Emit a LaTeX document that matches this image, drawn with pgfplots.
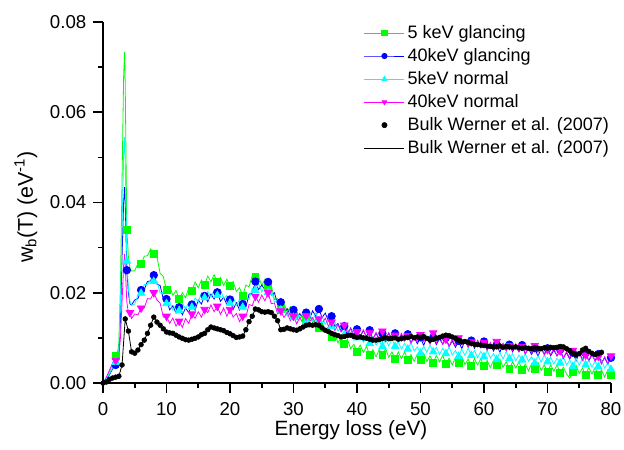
\documentclass[border=0pt]{standalone}
\usepackage{fontspec}
\setmainfont{Liberation Sans}
\usepackage{pgfplots}
\usepackage{pgfplotstable}
\pgfplotsset{compat=1.18}

\definecolor{cgreen}{RGB}{0,255,0}
\definecolor{cblue}{RGB}{0,0,255}
\definecolor{ccyan}{RGB}{0,255,255}
\definecolor{cmag}{RGB}{255,0,255}

% Energy loss x (eV); spectra in units of 1e-3 eV^-1
% g: 5 keV glancing, b: 40 keV glancing, c: 5 keV normal, m: 40 keV normal, k: bulk (Werner et al.)
\pgfplotstableread{
x g b c m k
0 0 0 0 0 0
0.5 0.9 0.7 0.8 1.2 0.2
1.0 2.4 1.8 2.0 2.8 0.8
1.5 4.3 3.1 3.4 4.3 1.1
2.0 6.1 4.0 4.6 5.0 1.3
2.25 6.4 4.3 5.0 5.1 nan
2.5 9.0 6.0 7.0 6.0 1.5
2.75 22 14 18 10 nan
3.0 45 28 35 18 4.0
3.25 68 40 50 26 nan
3.4 73.4 43.4 54.5 28.6 nan
3.5 66 40 50 26 14.2
3.75 34 25 27 18 nan
4.0 28 20 21 15.5 11.5
4.25 25.5 17.5 18 15.6 nan
4.5 24.8 17.3 17.2 14.3 6.9
5.0 24.9 18.4 17.5 15.3 6.6
5.5 26.5 18.7 19.6 15.1 7.3
6.0 26.3 20.6 19.9 16.6 8.5
6.5 28.1 20.7 21.8 16.6 9.5
7.0 28.2 22.5 21.8 18.7 11.0
7.5 29.7 22.6 23.0 18.6 12.8
8.0 28.6 23.9 22.5 20.0 14.6
8.5 27.9 21.9 22.5 18.4 13.5
9.0 24.3 21.6 19.9 17.7 12.8
9.5 23.6 18.5 20.1 14.6 12.0
10.0 20.6 18.6 17.6 14.8 11.3
10.5 21.4 16.2 18.1 13.2 11.1
11.0 19.4 17.1 16.2 14.4 11.0
11.5 20.5 15.5 17.3 12.6 10.6
12.0 18.6 16.8 16.1 13.7 10.2
12.5 20.0 15.1 17.8 12.3 9.9
13.0 18.9 16.6 16.4 14.3 9.6
13.5 21.0 15.6 17.8 13.2 9.5
14.0 20.4 17.4 16.8 15.3 9.7
14.5 22.4 16.1 18.9 14.3 9.9
15.0 21.1 18.4 17.9 15.8 10.2
15.5 22.8 17.5 20.0 14.6 10.7
16.0 21.7 19.3 18.9 16.3 11.0
16.5 23.7 18.0 20.3 15.6 11.8
17.0 22.4 19.7 19.0 17.3 12.4
17.5 24.0 18.6 20.5 15.8 12.2
18.0 22.3 20.1 19.4 17.0 12.0
18.5 23.4 18.1 20.7 15.2 11.8
19.0 21.6 19.0 18.7 16.6 11.6
19.5 23.0 17.4 19.4 14.8 11.2
20.0 21.5 18.5 17.7 16.3 10.9
20.5 22.5 16.3 19.0 14.6 10.5
21.0 20.3 17.8 17.2 15.4 10.1
21.5 21.1 16.2 18.5 13.6 10.2
22.0 19.3 17.5 16.8 14.8 10.4
22.5 21.7 16.8 18.7 14.6 11.8
23.0 21.3 19.7 18.5 17.4 13.6
23.5 23.8 19.9 21.0 17.1 14.8
24.0 23.6 22.5 20.5 19.2 16.4
24.5 23.6 20.7 22.0 17.9 16.2
25.0 21.6 21.7 20.2 19.5 15.8
25.5 23.0 20.7 21.4 18.2 15.7
26.0 21.4 22.4 20.1 20.0 15.8
26.5 21.7 19.5 20.6 17.6 15.6
27.0 18.5 20.0 17.9 17.7 14.8
27.5 18.7 17.4 18.4 15.3 13.8
28.0 16.4 17.9 16.2 16.0 11.8
28.5 17.6 15.6 16.7 14.5 11.9
29.0 15.7 16.5 14.8 15.7 12.2
29.5 16.9 15.0 15.9 13.8 12.0
30.0 14.9 16.2 14.5 14.8 11.8
30.5 15.9 14.3 15.9 13.1 11.7
31.0 14.1 15.4 14.0 14.6 12.0
31.5 15.6 14.1 15.1 13.2 12.4
32.0 14.2 15.6 13.7 14.9 12.8
32.5 15.4 14.0 15.4 13.5 12.9
33.0 13.3 16.0 13.9 14.5 12.8
33.5 14.2 14.8 15.5 12.9 12.9
34.0 12.3 16.4 13.9 14.2 12.8
34.5 13.5 14.5 14.8 13.1 12.2
35.0 11.6 15.5 13.0 14.4 11.7
35.5 12.5 13.8 14.0 12.6 11.4
36.0 10.2 14.8 12.5 13.5 11.0
36.5 10.9 12.5 13.6 11.6 10.7
37.0 8.9 13.2 11.5 12.9 10.5
37.5 10.1 11.5 12.3 11.3 10.2
38.0 8.6 12.6 10.6 12.8 10.3
38.5 9.7 10.6 12.0 11.2 10.5
39.0 7.6 12.2 10.3 12.0 10.6
39.5 8.6 10.7 11.8 10.3 10.3
40.0 6.9 11.9 10.0 11.4 10.1
40.5 8.4 10.2 10.8 10.3 10.2
41.0 6.8 11.6 9.0 11.8 10.0
41.5 8.1 10.3 10.1 10.1 9.9
42.0 6.2 11.7 8.8 11.2 9.7
42.5 7.4 9.8 10.2 9.6 9.5
43.0 5.8 11.0 8.4 11.2 9.5
43.5 7.4 9.6 9.4 9.8 9.6
44.0 6.2 11.0 8.1 11.5 9.8
44.5 7.6 9.2 9.7 10.0 10.0
45.0 5.7 11.1 8.2 11.1 9.8
45.5 6.9 9.7 9.8 9.4 9.9
46.0 5.3 11.0 8.1 10.6 10.0
46.5 6.9 9.3 9.1 9.6 9.7
47.0 5.4 10.7 7.5 11.0 9.8
47.5 6.9 9.4 8.8 9.3 10.0
48.0 5.1 10.8 7.5 10.5 10.1
48.5 6.3 8.9 8.9 8.8 10.3
49.0 4.8 10.1 7.1 10.4 10.0
49.5 6.4 8.7 8.0 9.0 10.2
50.0 5.2 10.1 6.6 10.7 10.1
50.5 6.6 8.3 8.2 9.2 10.3
51.0 4.8 10.2 6.8 10.3 9.9
51.5 6.0 8.8 8.4 8.6 9.5
52.0 4.5 10.1 6.9 11.1 9.7
52.5 6.1 8.5 7.9 8.8 9.9
53.0 4.7 9.8 6.3 10.2 10.1
53.5 6.1 8.6 7.7 8.6 10.4
54.0 4.3 10.0 6.5 9.7 10.6
54.5 5.5 8.1 8.0 8.1 10.5
55.0 4.0 9.3 6.2 9.7 10.2
55.5 5.6 7.9 7.2 8.2 9.9
56.0 4.5 9.3 5.9 10.0 9.5
56.5 5.9 7.6 7.5 8.5 9.1
57.0 4.1 9.4 6.1 9.6 9.2
57.5 5.3 8.0 7.7 7.9 9.0
58.0 3.8 9.4 6.1 9.1 8.8
58.5 5.4 7.7 7.2 8.1 8.6
59.0 4.0 9.0 5.6 9.5 8.5
59.5 5.4 7.8 7.0 7.9 8.4
60.0 3.7 9.2 5.8 9.0 8.3
60.5 5.0 7.3 7.2 7.3 8.2
61.0 3.4 8.5 5.5 9.0 8.1
61.5 5.0 7.1 6.5 7.5 8.0
62.0 3.9 8.5 5.2 9.2 8.0
62.5 5.3 6.8 6.8 7.7 8.2
63.0 3.5 8.6 5.3 8.8 7.9
63.5 4.7 7.2 7.0 7.1 8.1
64.0 3.1 8.5 5.4 8.3 8.0
64.5 4.7 6.9 6.5 7.2 7.9
65.0 3.3 8.2 4.9 8.7 8.0
65.5 4.7 6.9 6.2 7.0 7.8
66.0 3.0 8.4 5.1 8.1 7.7
66.5 4.2 6.5 6.5 6.4 7.8
67.0 2.7 7.6 4.8 8.1 7.7
67.5 4.3 6.3 5.8 6.6 7.6
68.0 3.2 7.7 4.4 8.3 7.8
68.5 4.6 5.9 6.1 6.8 7.7
69.0 2.8 7.7 4.6 7.9 7.6
69.5 4.0 6.4 6.3 6.2 7.8
70.0 2.4 7.7 4.7 7.4 7.7
70.5 4.0 6.0 5.7 6.3 7.9
71.0 2.6 7.3 4.2 7.7 7.8
71.5 4.0 6.0 5.5 6.0 7.9
72.0 2.3 7.4 4.4 7.1 8.1
72.5 3.5 5.6 5.8 5.4 8.0
73.0 2.0 6.7 4.0 7.0 7.6
73.5 1.1 5.3 5.1 5.5 7.2
74.0 2.5 6.7 3.7 7.2 6.6
74.5 3.9 4.9 5.4 5.7 6.2
75.0 2.1 6.7 3.9 6.7 6.5
75.5 3.3 5.3 5.5 5.0 7.3
76.0 1.8 6.6 4.0 6.2 7.7
76.5 3.4 4.9 5.0 5.1 7.0
77.0 2.0 6.2 3.5 6.5 6.6
77.5 3.4 5.0 4.8 4.8 6.3
78.0 1.7 6.4 3.6 5.9 6.5
78.5 2.9 4.5 5.1 4.2 6.8
79.0 1.3 5.6 3.3 5.8 nan
79.5 2.9 4.2 4.4 4.3 nan
80.0 1.8 5.6 3.0 6.0 nan
}\spectra

\pgfplotsset{
  regmarks/.style={mark indices={5,13,19,23,27,31,35,39,43,47,51,55,59,63,67,71,75,79,83,87,91,95,99,103,107,111,115,119,123,127,131,135,139,143,147,151,155,159,163,167}},
  magmarks/.style={mark indices={5,15,19,23,27,31,35,39,43,47,51,55,59,63,67,71,75,79,83,87,91,95,99,103,107,111,115,119,123,127,131,135,139,143,147,151,155,159,163,167}},
}

\begin{document}
\begin{tikzpicture}
\begin{axis}[
  scale only axis,
  width=381pt, height=270.75pt,
  xmin=0, xmax=80, ymin=0, ymax=0.08,
  axis x line=bottom, axis y line=left,
  axis line style={-, line width=1.2pt},
  tick style={line width=1.2pt, black},
  tick align=outside,
  major tick length=7.5pt, minor tick length=3.75pt,
  xtick={0,10,20,30,40,50,60,70,80},
  ytick={0,0.02,0.04,0.06,0.08},
  minor x tick num=1, minor y tick num=1,
  scaled y ticks=false,
  /pgf/number format/assume math mode=true,
  yticklabel style={/pgf/number format/.cd, fixed, fixed zerofill, precision=2, /tikz/.cd, xshift=-1.5pt},
  xticklabel style={yshift=-3.5pt},
  tick label style={font=\fontsize{14}{16}\selectfont},
  xlabel={Energy loss (eV)},
  ylabel={w\textsubscript{b}(T) (eV\textsuperscript{-1})},
  xlabel style={font=\fontsize{15.5}{18}\selectfont, at={(axis description cs:0.488,-0.1468)}, anchor=base},
  ylabel style={font=\fontsize{16}{19}\selectfont, at={(axis description cs:-0.1378,0.4875)}, anchor=base},
  legend image code/.code={\draw[#1] plot coordinates {(0pt,0pt) (15pt,0pt) (30pt,0pt)};},
  legend image post style={mark indices={2}, mark size=2pt},
  legend style={draw=none, fill=none, at={(axis description cs:0.5055,1.006)}, anchor=north west,
    font=\fontsize{13.5}{15}\selectfont, row sep=2pt, cells={anchor=west}},
  legend cell align=left,
]
\addplot[cgreen, line width=0.6pt, mark=square*, mark size=2.6pt, regmarks,
  mark options={solid}] table[x=x, y expr=\thisrow{g}/1000] {\spectra};
\addlegendentry{5 keV glancing}
\addplot[cblue, line width=0.6pt, mark=*, mark size=2.8pt, regmarks] table[x=x, y expr=\thisrow{b}/1000] {\spectra};
\addlegendentry{40keV glancing}
\addplot[ccyan, line width=0.6pt, mark=triangle*, mark size=3.2pt, regmarks] table[x=x, y expr=\thisrow{c}/1000] {\spectra};
\addlegendentry{5keV normal}
\addplot[cmag, line width=0.6pt, mark=triangle*, mark size=3.2pt, magmarks,
  mark options={rotate=180}] table[x=x, y expr=\thisrow{m}/1000] {\spectra};
\addlegendentry{40keV normal}
\addplot[only marks, black, mark=*, mark size=1.8pt] table[x=x, y expr=\thisrow{k}/1000] {\spectra};
\addlegendentry{Bulk Werner et al. (2007)}
\addplot[black, line width=0.6pt] table[x=x, y expr=\thisrow{k}/1000] {\spectra};
\addlegendentry{Bulk Werner et al. (2007)}
\end{axis}
\pgfresetboundingbox
\path[use as bounding box] (current axis.south west) ++(-77.25pt,-50.25pt) rectangle ([shift={(9.75pt,16.5pt)}]current axis.north east);
\end{tikzpicture}
\end{document}
